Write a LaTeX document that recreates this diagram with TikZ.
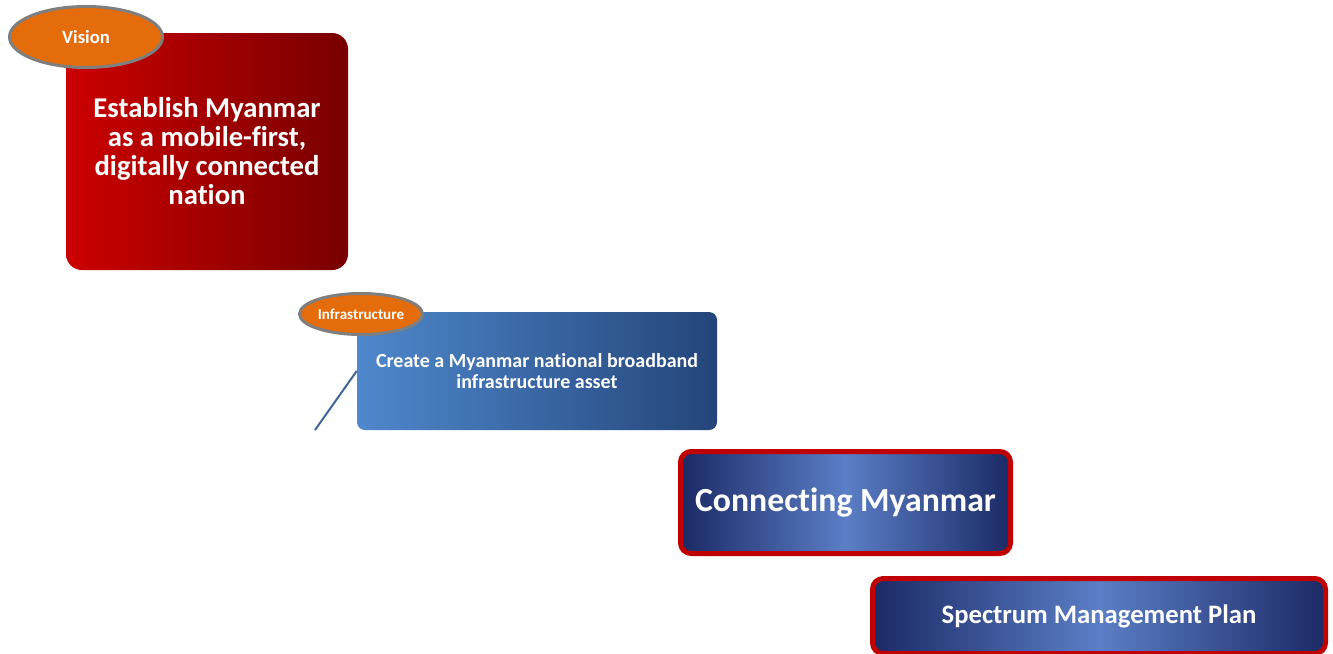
\documentclass[tikz,border=0pt]{standalone}
\usepackage{fontspec}
\setmainfont{Carlito}[Ligatures=NoCommon]
\usetikzlibrary{shapes.geometric}

\definecolor{visionred}{HTML}{CC0000}
\definecolor{visiondark}{HTML}{780000}
\definecolor{tagorange}{HTML}{E46C0A}
\definecolor{taggray}{HTML}{7F7F7F}
\definecolor{infralight}{HTML}{4F88CC}
\definecolor{infradark}{HTML}{24457A}
\definecolor{planedge}{HTML}{1B2A66}
\definecolor{planmid}{HTML}{5B7EC6}
\definecolor{planborder}{HTML}{C00000}
\definecolor{linkblue}{HTML}{3F6699}

\tikzset{
  tag/.style={ellipse, fill=tagorange, draw=taggray, line width=2.25pt,
    inner sep=0pt, text=white, font=\bfseries},
  goalbox/.style={rounded corners=12pt, inner sep=0pt, text=white,
    align=center, font=\bfseries},
  planbox/.style={rounded corners=8pt, draw=planborder, line width=3.75pt,
    left color=planedge, right color=planedge, middle color=planmid,
    inner sep=0pt, text=white, font=\bfseries},
}

\begin{document}
\begin{tikzpicture}[x=0.75pt,y=-0.75pt]
% Frame
\useasboundingbox[fill=white] (0,0) rectangle (1333,653);

% Vision
\node[goalbox, left color=visionred, right color=visiondark,
  minimum width=211.5pt, minimum height=177.75pt,
  font=\bfseries\fontsize{21.5}{21.75}\selectfont] (vision) at (207,151.5)
  {Establish Myanmar\\as a mobile-first,\\digitally connected\\nation};
\node[tag, minimum width=114.75pt, minimum height=45.75pt,
  font=\bfseries\fontsize{14}{16}\selectfont] (visiontag) at (86,37) {Vision};

% Infrastructure
\coordinate (infratail) at (315,430);
\node[goalbox, rounded corners=6pt, left color=infralight, right color=infradark,
  minimum width=270pt, minimum height=88.5pt,
  font=\bfseries\fontsize{15}{15.75}\selectfont] (infra) at (537,371)
  {Create a Myanmar national broadband\\infrastructure asset};
\draw[linkblue, line width=1.5pt] (infra.west) -- (infratail);
\node[tag, minimum width=92.25pt, minimum height=30.75pt,
  font=\bfseries\fontsize{11.3}{13}\selectfont] (infratag) at (361,314) {Infrastructure};

% Plans
\node[planbox, minimum width=247.5pt, minimum height=76.5pt,
  font=\bfseries\fontsize{25.3}{28}\selectfont] (connecting) at (845.5,502.5)
  {Connecting Myanmar};
\node[planbox, minimum width=339.75pt, minimum height=56.25pt,
  font=\bfseries\fontsize{20}{22}\selectfont] (spectrum) at (1099,616)
  {Spectrum Management Plan};
\end{tikzpicture}
\end{document}
